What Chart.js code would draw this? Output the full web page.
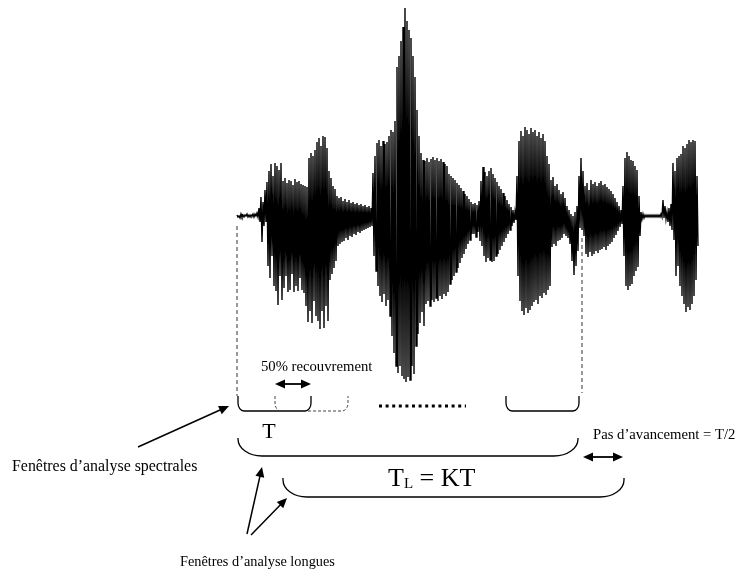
<!DOCTYPE html>
<html>
<head>
<meta charset="utf-8">
<script src="https://cdn.jsdelivr.net/npm/chart.js@4/dist/chart.umd.min.js"></script>
<style>
  html, body { margin: 0; padding: 0; background: #fff; }
  #wrap { width: 747px; height: 572px; }
</style>
</head>
<body>
<div id="wrap"><canvas id="c" width="747" height="572"></canvas></div>
<script>
// Speech signal envelope, one frame every 2 time units:
// positive and negative peak amplitude of each frame.
const frameStep = 2;
const peakHigh = [
  1, 0, 2, 1, 1, 2, 1, 1, 2, 2, 3,
  8, 19, 14,
  26,
  34, 45, 52, 40,
  53, 50, 46, 53,
  35, 38, 33, 36, 35, 31, 37, 34, 35, 32,
  31, 30, 29,
  58, 63, 60, 66,
  74, 78, 70, 80, 79, 68,
  45, 38, 30, 27,
  20, 18, 19, 15, 17, 14, 16, 13, 14, 12, 13, 11, 12, 10, 11, 9, 10, 8,
  43, 60, 73,
  76, 70, 75, 72, 74,
  80, 86, 84, 95,
  149, 160, 175, 189,
  208, 195,
  186, 178, 160, 139,
  106, 80, 63, 56,
  55, 58, 54, 57, 59, 56, 58, 55, 57, 54, 52, 50,
  42, 40, 38, 36, 33, 31, 28, 25, 22, 20, 17, 14,
  12, 13, 11, 15,
  35, 49, 44, 40, 45, 48, 42, 38, 34, 30, 27, 23, 20, 16, 12, 9, 6, 4,
  40, 75, 85, 80, 89, 86, 82, 88, 84, 86, 80, 84, 78, 82, 75, 60, 52,
  36, 39, 30, 32, 26, 22, 24, 18, 10, 6,
  2, 0, 4, 10,
  40, 58, 45,
  30, 33, 26, 36, 32, 34, 30, 33, 35, 31, 32, 29, 27, 25, 22, 18, 14, 10, 6,
  30, 58, 64, 60, 56, 55, 50, 46, 20,
  4, 2, 1, 1, 1, 1, 1, 1, 1, 1, 2,
  16, 10, 4,
  8, 12,
  53, 45, 58, 60, 62, 70, 68, 72, 76, 74, 76, 75, 40
];
const peakLow = [
  -1, -2, -1, -1, 0, -1, -1, 0, -1, 0, -1,
  -6, -26, -10,
  -6,
  -50, -62, -40, -70,
  -75, -89, -60, -84,
  -72, -60, -76, -74, -58, -76, -70, -75, -62, -74,
  -77, -90, -106,
  -95, -107, -85, -100,
  -105, -113, -95, -112, -90, -105,
  -64, -58, -52, -45,
  -30, -28, -26, -25, -22, -24, -20, -21, -18, -19, -16, -17, -15, -14, -13, -12, -11, -10,
  -40, -55, -70,
  -80, -86, -78, -90, -84,
  -100, -120, -137, -150,
  -157, -150, -160, -163,
  -166, -161,
  -164, -150, -158, -130,
  -118, -107, -96, -110,
  -88, -85, -90, -84, -86, -82, -85, -80, -83, -78, -80, -76,
  -68, -64, -60, -56, -52, -47, -42, -38, -33, -28, -24, -18,
  -18, -21, -16, -25,
  -30, -40, -46, -42, -44, -46, -45, -40, -38, -34, -30, -26, -22, -18, -14, -10, -7, -4,
  -60, -85, -95, -99, -92, -97, -94, -90, -86, -84, -88, -80, -82, -77, -79, -74, -70,
  -31, -28, -30, -25, -24, -22, -18, -20, -22, -28,
  -45, -59, -50, -35,
  -12, -14, -20,
  -38, -41, -36, -40, -38, -35, -37, -34, -33, -31, -34, -30, -28, -26, -22, -19, -15, -11, -8,
  -40, -70, -74, -70, -68, -60, -55, -51, -20,
  -3, -2, -1, -1, -1, -1, -1, -1, -1, -1, -1,
  -2, -3, -6,
  -10, -14,
  -24, -60, -50, -70, -80, -88, -96, -91, -94, -88, -80, -64, -30
];

// Analysis windows, in time units along the signal
const frameLen = 73;                       // T
const spectralStarts = [1, 38, 269];       // short windows (second one dashed)
const longWindows = [[1, 341], [46, 387]]; // T_L = KT, shifted by the step
const markers = [0, 345];                  // dashed guides down from the signal

// Zig-zag trace through the frame peaks
const wave = [];
peakHigh.forEach((h, i) => {
  const t = i * frameStep;
  wave.push({ x: t, y: h });
  wave.push({ x: t + frameStep / 2, y: peakLow[i] });
});

const SERIF = '"Liberation Serif", "Times New Roman", serif';

function bracket(ctx, x1, x2, yTop, yBot, rx, ry) {
  const k = 0.5523;
  ctx.beginPath();
  ctx.moveTo(x1, yTop);
  ctx.lineTo(x1, yBot - ry);
  ctx.bezierCurveTo(x1, yBot - ry + ry * k, x1 + rx - rx * k, yBot, x1 + rx, yBot);
  ctx.lineTo(x2 - rx, yBot);
  ctx.bezierCurveTo(x2 - rx + rx * k, yBot, x2, yBot - ry + ry * k, x2, yBot - ry);
  ctx.lineTo(x2, yTop);
  ctx.stroke();
}

function head(ctx, x, y, ang, len, half) {
  ctx.save();
  ctx.translate(x, y);
  ctx.rotate(ang);
  ctx.beginPath();
  ctx.moveTo(0, 0);
  ctx.lineTo(-len, -half);
  ctx.lineTo(-len, half);
  ctx.closePath();
  ctx.fill();
  ctx.restore();
}

function arrow(ctx, x1, y1, x2, y2, both) {
  const ang = Math.atan2(y2 - y1, x2 - x1);
  const len = 10, half = 4.5;
  ctx.beginPath();
  ctx.moveTo(both ? x1 + Math.cos(ang) * len * 0.8 : x1, both ? y1 + Math.sin(ang) * len * 0.8 : y1);
  ctx.lineTo(x2 - Math.cos(ang) * len * 0.8, y2 - Math.sin(ang) * len * 0.8);
  ctx.stroke();
  head(ctx, x2, y2, ang, len, half);
  if (both) head(ctx, x1, y1, ang + Math.PI, len, half);
}

const annotations = {
  id: 'annotations',
  afterDatasetsDraw(chart) {
    const ctx = chart.ctx;
    const xs = chart.scales.x;
    const X = t => xs.getPixelForValue(t);
    ctx.save();
    ctx.lineCap = 'butt';

    // dashed guides
    ctx.strokeStyle = '#555';
    ctx.lineWidth = 1.2;
    ctx.setLineDash([4, 3]);
    ctx.beginPath();
    ctx.moveTo(X(markers[0]), 226); ctx.lineTo(X(markers[0]), 396);
    ctx.moveTo(X(markers[1]), 238); ctx.lineTo(X(markers[1]), 393);
    ctx.stroke();

    // short spectral windows
    spectralStarts.forEach((s, i) => {
      const dashed = i === 1;
      ctx.setLineDash(dashed ? [3, 2] : []);
      ctx.strokeStyle = dashed ? '#444' : '#000';
      ctx.lineWidth = dashed ? 1 : 1.3;
      bracket(ctx, X(s), X(s + frameLen), 396, 411, 6, 8);
    });
    ctx.setLineDash([]);

    // dotted continuation
    ctx.strokeStyle = '#000';
    ctx.lineWidth = 3;
    ctx.setLineDash([3, 3.6]);
    ctx.beginPath();
    ctx.moveTo(X(142), 406); ctx.lineTo(X(229), 406);
    ctx.stroke();
    ctx.setLineDash([]);

    // long windows
    ctx.lineWidth = 1.3;
    bracket(ctx, X(longWindows[0][0]), X(longWindows[0][1]), 438, 456, 24, 17);
    bracket(ctx, X(longWindows[1][0]), X(longWindows[1][1]), 478, 497, 24, 17);

    // arrows
    ctx.fillStyle = '#000';
    ctx.lineWidth = 1.8;
    arrow(ctx, X(spectralStarts[1]), 384, X(spectralStarts[0] + frameLen), 384, true);
    arrow(ctx, X(longWindows[0][1]) + 5, 457, X(longWindows[1][1]) - 1, 457, true);
    ctx.lineWidth = 1.5;
    arrow(ctx, 138, 447, 229, 406, false);
    arrow(ctx, 247, 534, 262, 467, false);
    arrow(ctx, 251, 535, 287, 498, false);

    // labels
    ctx.fillStyle = '#000';
    ctx.textBaseline = 'alphabetic';
    ctx.textAlign = 'left';
    ctx.font = '14.7px ' + SERIF;
    ctx.fillText('50% recouvrement', 261, 371);
    ctx.fillText('Pas d\u2019avancement = T/2', 593, 439);
    ctx.font = '15.9px ' + SERIF;
    ctx.fillText('Fen\u00eatres d\u2019analyse spectrales', 12, 471);
    ctx.font = '14.3px ' + SERIF;
    ctx.fillText('Fen\u00eatres d\u2019analyse longues', 180, 566);

    ctx.font = '22px ' + SERIF;
    ctx.textAlign = 'center';
    ctx.fillText('T', 269, 438);

    ctx.textAlign = 'left';
    ctx.font = '26px ' + SERIF;
    let x = 388;
    ctx.fillText('T', x, 486);
    x += ctx.measureText('T').width;
    ctx.font = '15px ' + SERIF;
    ctx.fillText('L', x, 488);
    x += ctx.measureText('L').width;
    ctx.font = '26px ' + SERIF;
    ctx.fillText(' = KT', x, 486);
    ctx.restore();
  }
};

new Chart(document.getElementById('c'), {
  type: 'line',
  data: {
    datasets: [{
      data: wave,
      borderColor: '#000',
      borderWidth: 1.4,
      pointRadius: 0,
      tension: 0,
      fill: false
    }]
  },
  options: {
    responsive: false,
    animation: false,
    devicePixelRatio: 1,
    layout: { padding: 0 },
    plugins: { legend: { display: false }, tooltip: { enabled: false } },
    scales: {
      x: { type: 'linear', min: -237, max: 510, display: false },
      y: { type: 'linear', min: -356, max: 216, display: false }
    }
  },
  plugins: [annotations]
});
</script>
</body>
</html>
